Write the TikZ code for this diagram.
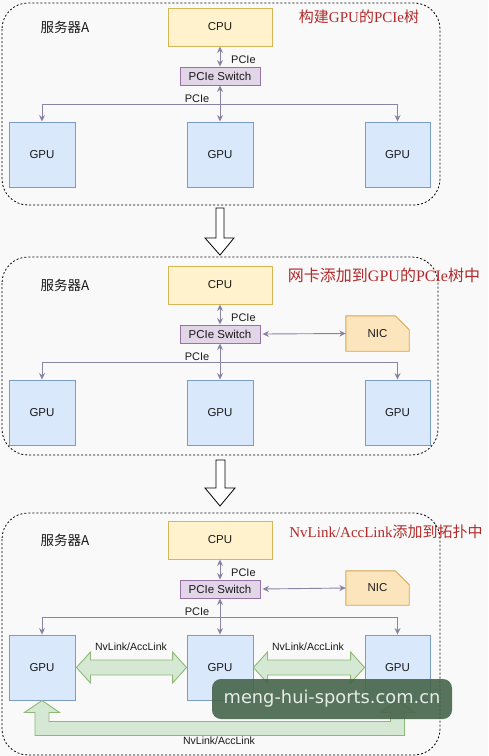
\documentclass[tikz,border=0pt]{standalone}
\usepackage{fontspec}
\setmainfont{Liberation Sans}
\newfontfamily\cjk{Noto Sans CJK SC}
\newfontfamily\ttlserif{Liberation Serif}
\newfontfamily\wmfont{DejaVu Sans}
\usetikzlibrary{arrows.meta,calc,backgrounds}
\definecolor{bgC}{HTML}{F9F9F9}
\definecolor{cpuF}{HTML}{FFF2CC}
\definecolor{cpuD}{HTML}{D6B656}
\definecolor{swF}{HTML}{E1D5E7}
\definecolor{swD}{HTML}{9673A6}
\definecolor{gpuF}{HTML}{DAE8FC}
\definecolor{gpuD}{HTML}{7C9CC8}
\definecolor{nicF}{HTML}{FCE5BC}
\definecolor{nicD}{HTML}{D6A650}
\definecolor{grF}{HTML}{D5E8D4}
\definecolor{grD}{HTML}{8DB876}
\definecolor{lineC}{HTML}{8A83A3}
\definecolor{txtC}{HTML}{1A1A1A}
\definecolor{ttlC}{HTML}{B22B2B}
\definecolor{wmF}{HTML}{46654A}
\definecolor{wmT}{HTML}{E6ECE6}
\tikzset{
  box/.style={draw, line width=0.9pt, inner sep=0pt, text=txtC,
    font=\fontsize{11.5}{13}\selectfont},
  cpubox/.style={box, fill=cpuF, draw=cpuD, minimum width=104pt, minimum height=38pt},
  swbox/.style={box, fill=swF, draw=swD, minimum width=80pt, minimum height=18pt},
  gpubox/.style={box, fill=gpuF, draw=gpuD, minimum width=66pt, minimum height=65pt},
  nicbox/.style={rectangle, inner sep=0pt, minimum width=63pt, minimum height=35pt,
    text=txtC, font=\fontsize{11.5}{13}\selectfont},
  nicshape/.style={fill=nicF, draw=nicD, line width=0.9pt},
  conn/.style={draw=lineC, line width=0.9pt},
  lbl/.style={inner sep=0pt, text=txtC, font=\fontsize{11}{13}\selectfont},
  glbl/.style={inner sep=0pt, text=txtC, font=\fontsize{10.5}{12}\selectfont},
  srv/.style={inner sep=0pt, text=txtC, font=\cjk\fontsize{13.5}{15}\selectfont},
  ttl/.style={inner sep=0pt, text=ttlC, font=\ttlserif\fontsize{15}{17}\selectfont},
  panelbox/.style={draw=black, line width=0.8pt, dash pattern=on 2pt off 2pt, rounded corners=26pt},
  hollow/.style={draw=black, fill=white, line width=0.8pt, line join=miter},
  garrow/.style={fill=grF, draw=grD, line width=0.9pt, line join=miter},
  wm/.style={fill=wmF, fill opacity=0.9, text opacity=1, text=wmT, rounded corners=9pt,
    minimum width=240pt, minimum height=40pt, inner sep=0pt,
    font=\wmfont\fontsize{17.8}{20}\selectfont},
  >={Stealth[length=6.5pt,width=6pt]}
}
\newcommand\panelcore[2]{%
\begin{scope}[yshift=-#2pt]
  \node[cpubox] (cpu#1) at (220,27) {CPU};
  \node[swbox] (sw#1) at (220,76) {PCIe Switch};
  \node[gpubox] (ga#1) at (42,154.5) {GPU};
  \node[gpubox] (gb#1) at (220,154.5) {GPU};
  \node[gpubox, minimum width=65pt] (gc#1) at (397.5,154.5) {GPU};
  \node[srv] (srv#1) at (65,27.5) {服务器A};
  \draw[conn,<->] (cpu#1) -- (sw#1);
  \node[lbl, anchor=west] (pa#1) at (231,60) {PCIe};
  \draw[conn,<->] (sw#1) -- (gb#1);
  \coordinate (hub#1) at (220,104);
  \draw[conn,->] (hub#1) -| (ga#1);
  \draw[conn,->] (hub#1) -| (gc#1);
  \node[lbl] (pb#1) at (197,98.5) {PCIe};
\end{scope}}
\begin{document}
\begin{tikzpicture}[x=1pt,y=-1pt]
\begin{scope}[on background layer]
  \fill[bgC] (0,0) rectangle (488,756);
\end{scope}
\useasboundingbox (0,0) rectangle (488,756);
% panels
\draw[panelbox] (2,3) rectangle (440,205);
\draw[panelbox] (2,257) rectangle (438,455);
\draw[panelbox] (2,513) rectangle (440,755);
% hollow arrows between panels
\draw[hollow] (216,208) -- (224,208) -- (224,238) -- (234,238) -- (220,255) -- (205,238) -- (216,238) -- cycle;
\draw[hollow] (216,460) -- (225,460) -- (225,488) -- (235,488) -- (220,506) -- (205,488) -- (216,488) -- cycle;
% panel contents
\panelcore{1}{0}
\panelcore{2}{258}
\panelcore{3}{513}
% titles
\node[ttl] (t1) at (359,17) {{\cjk 构建}GPU{\cjk 的}PCIe{\cjk 树}};
\node[ttl, font=\ttlserif\fontsize{16}{18}\selectfont] (t2) at (384,275) {{\cjk 网卡添加到}GPU{\cjk 的}PCIe{\cjk 树中}};
\node[ttl] (t3) at (386,532) {NvLink/AccLink{\cjk 添加到拓扑中}};
% NICs
\node[nicbox] (nic2) at (377.5,333.5) {NIC};
\node[nicbox, minimum height=34pt] (nic3) at (377.5,588) {NIC};
\begin{scope}[on background layer]
  \foreach \n in {nic2,nic3}{
    \filldraw[nicshape] (\n.south west) -- (\n.north west) -- ($(\n.north east)+(-14,0)$)
      -- ($(\n.north east)+(0,14)$) -- (\n.south east) -- cycle;
  }
\end{scope}
\draw[conn,<->] ($(sw2.east)+(2,0)$) -- (nic2.west);
\draw[conn,<->] ($(sw3.east)+(2,0)$) -- (nic3.west);
% NvLink arrows
\draw[garrow] ($(ga3.east)+(1,0)$) -- ++(14,-15.5) -- ++(0,8) -- ($(gb3.west)+(-14,-7.5)$) -- ++(0,-8)
  -- (gb3.west) -- ++(-14,15.5) -- ++(0,-8) -- ($(ga3.east)+(15,7.5)$) -- ++(0,8) -- cycle;
\draw[garrow] (gb3.east) -- ++(14,-15.5) -- ++(0,8) -- ($(gc3.west)+(-14,-7.5)$) -- ++(0,-8)
  -- (gc3.west) -- ++(-14,15.5) -- ++(0,-8) -- ($(gb3.east)+(14,7.5)$) -- ++(0,8) -- cycle;
\draw[garrow] (ga3.south) -- ++(17.5,12) -- ++(-10.5,0) -- ++(0,9) -- ($(gc3.south)+(-7,21)$)
  -- ++(0,-9) -- ++(-10.5,0) -- (gc3.south) -- ++(17.5,12) -- ++(-10.5,0) -- ++(0,23)
  -- ($(ga3.south)+(-7,35)$) -- ++(0,-23) -- ++(-10.5,0) -- cycle;
\node[glbl] (nv1) at (131,647) {NvLink/AccLink};
\node[glbl] (nv2) at (308,647) {NvLink/AccLink};
\node[glbl] (nv3) at (219,741) {NvLink/AccLink};
% watermark overlay
\node[wm] (wm) at (332,699) {meng-hui-sports.com.cn};
\end{tikzpicture}
\end{document}
